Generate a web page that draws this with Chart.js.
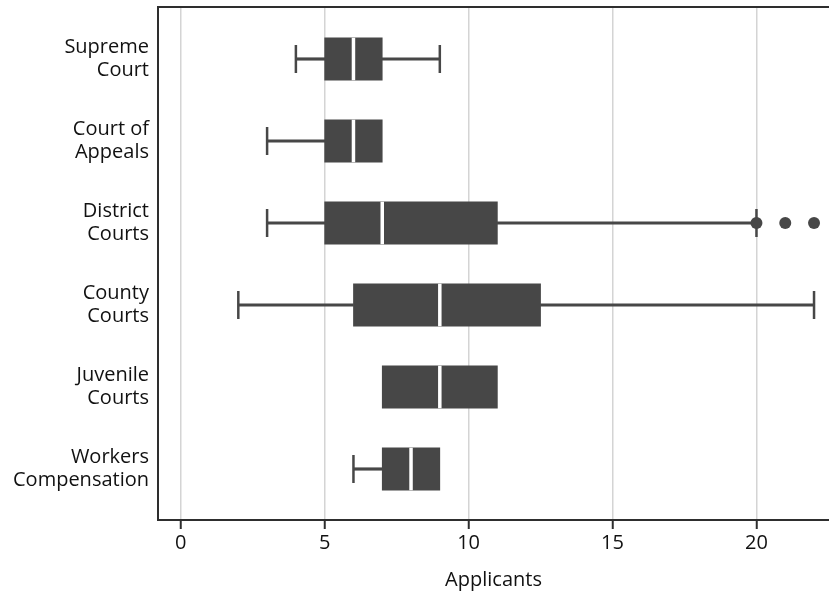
<!DOCTYPE html>
<html>
<head>
<meta charset="utf-8">
<script src="https://cdn.jsdelivr.net/npm/chart.js@4"></script>
<style>
  html, body { margin: 0; padding: 0; background: #fff; }
  #wrap { width: 829px; height: 596px; }
</style>
</head>
<body>
<div id="wrap"><canvas id="boxChart"></canvas></div>
<script>
// Box plot values
const categories = [
    ['Supreme', 'Court'],
    ['Court of', 'Appeals'],
    ['District', 'Courts'],
    ['County', 'Courts'],
    ['Juvenile', 'Courts'],
    ['Workers', 'Compensation']
];
const whiskerLow  = [4, 3, 3, 2, 7, 6];
const q1          = [5, 5, 5, 6, 7, 7];
const median      = [6, 6, 7, 9, 9, 8];
const q3          = [7, 7, 11, 12.5, 11, 9];
const whiskerHigh = [9, 7, 20, 22, 11, 9];
const outliers    = [[], [], [20, 21, 22], [], [], []];
const xTicks      = [0, 5, 10, 15, 20];

const boxColor = '#474747';
const axisColor = '#2e2e2e';
const textColor = '#111111';
const font = { family: 'Open Sans', size: 20 };

// build the datasets from the arrays above
const boxes = categories.map((c, i) => ({ x: [q1[i], q3[i]], y: i }));

const whiskers = [];
const caps = [];
categories.forEach((c, i) => {
    if (whiskerLow[i] < q1[i]) {
        whiskers.push({ x: [whiskerLow[i], q1[i]], y: i });
        caps.push({ x: whiskerLow[i], y: i });
    }
    if (whiskerHigh[i] > q3[i]) {
        whiskers.push({ x: [q3[i], whiskerHigh[i]], y: i });
        caps.push({ x: whiskerHigh[i], y: i });
    }
});

const medians = categories.map((c, i) => ({ x: median[i], y: i }));

const outlierPoints = [];
outliers.forEach((list, i) => {
    list.forEach(v => outlierPoints.push({ x: v, y: i }));
});

const ctx = document.getElementById('boxChart').getContext('2d');

new Chart(ctx, {
    type: 'bar',
    data: {
        datasets: [
            {
                label: 'whiskers',
                data: whiskers,
                xAxisID: 'x',
                yAxisID: 'y',
                backgroundColor: boxColor,
                barThickness: 2.5,
                grouped: false,
                order: 4
            },
            {
                type: 'scatter',
                label: 'caps',
                data: caps,
                xAxisID: 'x',
                yAxisID: 'y',
                pointStyle: 'line',
                rotation: 90,
                radius: 14,
                borderWidth: 2.5,
                borderColor: boxColor,
                order: 3
            },
            {
                label: 'boxes',
                data: boxes,
                xAxisID: 'x',
                yAxisID: 'y',
                backgroundColor: boxColor,
                barThickness: 42.5,
                grouped: false,
                order: 2
            },
            {
                type: 'scatter',
                label: 'medians',
                data: medians,
                xAxisID: 'x',
                yAxisID: 'y',
                pointStyle: 'line',
                rotation: 90,
                radius: 21.25,
                borderWidth: 3.5,
                borderColor: '#ffffff',
                order: 1
            },
            {
                type: 'scatter',
                label: 'outliers',
                data: outlierPoints,
                xAxisID: 'x',
                yAxisID: 'y',
                pointStyle: 'circle',
                radius: 6,
                borderWidth: 0,
                backgroundColor: boxColor,
                order: 0
            }
        ]
    },
    options: {
        indexAxis: 'y',
        responsive: true,
        maintainAspectRatio: false,
        animation: false,
        events: [],
        layout: { autoPadding: false, padding: { left: 0, right: 0, top: 7, bottom: 0 } },
        plugins: {
            legend: { display: false },
            tooltip: { enabled: false }
        },
        scales: {
            x: {
                type: 'linear',
                position: 'bottom',
                offset: false,
                min: -0.79,
                max: 22.52,
                afterBuildTicks: scale => {
                    scale.ticks = xTicks.map(v => ({ value: v }));
                },
                afterFit: scale => {
                    scale.height = 76;
                    scale.paddingRight = 0;
                    scale.paddingLeft = 0;
                },
                grid: {
                    offset: false,
                    color: '#d4d4d4',
                    lineWidth: 1.5,
                    tickColor: axisColor,
                    tickLength: 9,
                    tickWidth: 2
                },
                border: { display: true, color: axisColor, width: 2 },
                ticks: { color: textColor, font: font, padding: 2, maxRotation: 0 },
                title: {
                    display: true,
                    text: 'Applicants',
                    color: textColor,
                    font: font,
                    padding: { top: 0, bottom: 4 }
                }
            },
            xTop: {
                axis: 'x',
                type: 'linear',
                position: 'top',
                offset: false,
                min: -0.79,
                max: 22.52,
                afterFit: scale => {
                    scale.height = 0;
                    scale.paddingRight = 0;
                    scale.paddingLeft = 0;
                },
                grid: { display: false, drawTicks: false, offset: false },
                ticks: { display: false },
                border: { display: true, color: axisColor, width: 2 }
            },
            y: {
                type: 'linear',
                position: 'left',
                offset: false,
                reverse: true,
                min: -0.634,
                max: 5.622,
                afterBuildTicks: scale => {
                    scale.ticks = categories.map((c, i) => ({ value: i }));
                },
                afterFit: scale => {
                    scale.width = 158;
                    scale.paddingTop = 0;
                    scale.paddingBottom = 0;
                },
                grid: { display: false, drawTicks: false, offset: false },
                border: { display: true, color: axisColor, width: 2 },
                ticks: {
                    color: textColor,
                    font: { family: 'Open Sans', size: 20, lineHeight: 1.17 },
                    padding: 9,
                    callback: value => categories[value]
                }
            }
        }
    }
});
</script>
</body>
</html>
